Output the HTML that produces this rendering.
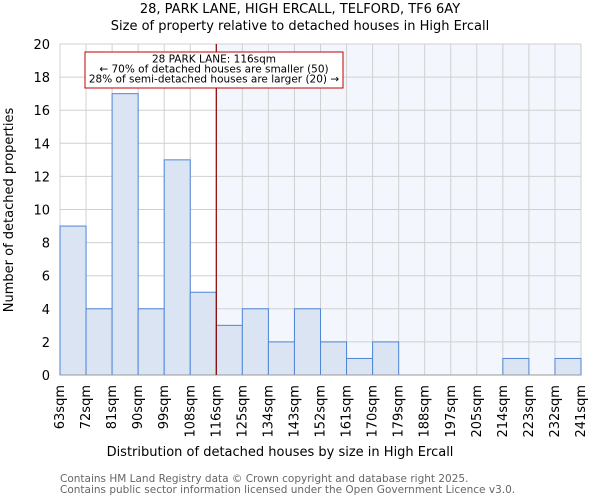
<!DOCTYPE html>
<html><head><meta charset="utf-8"><style>
body{margin:0;background:#fff;font-family:"DejaVu Sans","Liberation Sans",sans-serif;}
svg text{font-family:"DejaVu Sans","Liberation Sans",sans-serif;}
</style></head><body>
<svg id="c" width="600" height="500" xmlns="http://www.w3.org/2000/svg">
<text x="300" y="13" text-anchor="middle" font-size="13">28, PARK LANE, HIGH ERCALL, TELFORD, TF6 6AY</text>
<text x="300" y="30" text-anchor="middle" font-size="13">Size of property relative to detached houses in High Ercall</text>
<g id="plot"></g>
<text x="280" y="456" text-anchor="middle" font-size="13">Distribution of detached houses by size in High Ercall</text>
<text transform="translate(13,210) rotate(-90)" text-anchor="middle" font-size="13">Number of detached properties</text>
<text x="60" y="482" font-size="10.5" fill="#666">Contains HM Land Registry data © Crown copyright and database right 2025.</text>
<text x="60" y="493" font-size="10.5" fill="#666">Contains public sector information licensed under the Open Government Licence v3.0.</text>
</svg>
<script>
const categories=["63sqm","72sqm","81sqm","90sqm","99sqm","108sqm","116sqm","125sqm","134sqm","143sqm","152sqm","161sqm","170sqm","179sqm","188sqm","197sqm","205sqm","214sqm","223sqm","232sqm","241sqm"];
const counts=[9,4,17,4,13,5,3,4,2,4,2,1,2,0,0,0,0,1,0,1];
const yTicks=[0,2,4,6,8,10,12,14,16,18,20];
const markerIndex=6;
const NS="http://www.w3.org/2000/svg";
const g=document.getElementById("plot");
const X0=60,X1=581,Y0=375,Y1=44,yMax=20;
const bw=(X1-X0)/counts.length;
const xs=i=>X0+i*bw;
const ys=v=>Y0-(v/yMax)*(Y0-Y1);
function mk(t,a){const e=document.createElementNS(NS,t);for(const k in a)e.setAttribute(k,a[k]);g.appendChild(e);return e;}
let r=mk("rect",{x:xs(markerIndex),y:Y1,width:X1-xs(markerIndex),height:Y0-Y1,fill:"#f3f6fc"});


yTicks.forEach(t=>{
 let l=mk("line",{x1:X0,x2:X1,y1:ys(t),y2:ys(t),stroke:"#d0d0d0","stroke-width":1});
 
 
 let tx=mk("text",{x:X0-10,y:ys(t)+5,"text-anchor":"end","font-size":13});
 tx.textContent=t;
 
 
});
categories.forEach((c,i)=>{
 let l=mk("line",{x1:xs(i),x2:xs(i),y1:Y1,y2:Y0,stroke:"#d0d0d0","stroke-width":1});
 
 
 let x=xs(i)+4;
 let tx=mk("text",{x:x,y:Y0+10,"text-anchor":"end","font-size":13,transform:`rotate(-90 ${x} ${Y0+10})`});
 tx.textContent=c;
 
 
});
counts.forEach((v,i)=>{
 if(v<=0)return;
 let b=mk("rect",{x:xs(i),y:ys(v),width:bw,height:Y0-ys(v),fill:"#dae4f3",stroke:"#4f86d6","stroke-width":1});
 
 
});
let ax=mk("line",{x1:X0,x2:X1,y1:Y0,y2:Y0,stroke:"#999","stroke-width":1});


let ml=mk("line",{x1:xs(markerIndex),x2:xs(markerIndex),y1:Y1,y2:Y0,stroke:"#8b0000","stroke-width":1.2});


let box=mk("rect",{x:85,y:52,width:258,height:36,fill:"#fff",stroke:"#c00000","stroke-width":1});


["28 PARK LANE: 116sqm","← 70% of detached houses are smaller (50)","28% of semi-detached houses are larger (20) →"].forEach((s,i)=>{
 let t=mk("text",{x:214,y:62.5+i*10,"text-anchor":"middle","font-size":10.5});
 t.textContent=s;
 
 
});
</script>
</body></html>
